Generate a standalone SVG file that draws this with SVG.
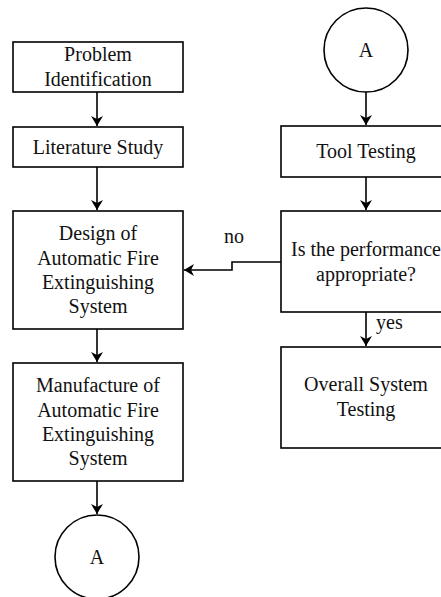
<svg xmlns="http://www.w3.org/2000/svg" width="441" height="597" viewBox="0 0 441 597">
<style>
.box{fill:#fff;stroke:#000;stroke-width:1.6}
.t{font-family:"Liberation Serif","Times New Roman",serif;font-size:20px;fill:#111;text-anchor:middle}
.l{font-family:"Liberation Serif","Times New Roman",serif;font-size:20px;fill:#111}
.c{fill:none;stroke:#000;stroke-width:1.6}
</style>
<defs>
<marker id="ah" markerWidth="12" markerHeight="12" refX="10" refY="6" orient="auto" markerUnits="userSpaceOnUse">
<path d="M0,0 L10,6 L0,12 L3,6 Z" fill="#000"/>
</marker>
</defs>
<rect width="441" height="597" fill="#fff"/>
<g id="connectors">
<path class="c" d="M97,92 V126" marker-end="url(#ah)"/>
<path class="c" d="M97,167 V210" marker-end="url(#ah)"/>
<path class="c" d="M97,329 V362" marker-end="url(#ah)"/>
<path class="c" d="M97,481 V514" marker-end="url(#ah)"/>
<path class="c" d="M366,92 V125" marker-end="url(#ah)"/>
<path class="c" d="M366,177 V210" marker-end="url(#ah)"/>
<path class="c" d="M366,312 V346" marker-end="url(#ah)"/>
<path class="c" d="M281,262 H232 V270 H184" marker-end="url(#ah)"/>
<text class="l" x="224" y="243">no</text>
<text class="l" x="376" y="329">yes</text>
</g>
<g id="problem">
<rect class="box" x="13" y="42" width="170" height="50"/>
<text class="t" x="98" y="61">Problem</text>
<text class="t" x="98" y="86">Identification</text>
</g>
<g id="literature">
<rect class="box" x="13" y="127" width="170" height="40"/>
<text class="t" x="98" y="154">Literature Study</text>
</g>
<g id="design">
<rect class="box" x="13" y="211" width="170" height="118"/>
<text class="t" x="98" y="240">Design of</text>
<text class="t" x="98" y="265">Automatic Fire</text>
<text class="t" x="98" y="289">Extinguishing</text>
<text class="t" x="98" y="313">System</text>
</g>
<g id="manufacture">
<rect class="box" x="13" y="363" width="170" height="118"/>
<text class="t" x="98" y="392">Manufacture of</text>
<text class="t" x="98" y="417">Automatic Fire</text>
<text class="t" x="98" y="441">Extinguishing</text>
<text class="t" x="98" y="465">System</text>
</g>
<g id="circleA-bottom">
<circle class="box" cx="97" cy="557" r="42"/>
<text class="t" x="97" y="564">A</text>
</g>
<g id="circleA-top">
<circle class="box" cx="366" cy="50" r="42"/>
<text class="t" x="366" y="57">A</text>
</g>
<g id="tool">
<rect class="box" x="281" y="126" width="170" height="51"/>
<text class="t" x="366" y="158">Tool Testing</text>
</g>
<g id="decision">
<rect class="box" x="281" y="211" width="170" height="101"/>
<text class="t" x="366" y="256">Is the performance</text>
<text class="t" x="366" y="281">appropriate?</text>
</g>
<g id="overall">
<rect class="box" x="281" y="347" width="170" height="101"/>
<text class="t" x="366" y="391">Overall System</text>
<text class="t" x="366" y="416">Testing</text>
</g>
</svg>
